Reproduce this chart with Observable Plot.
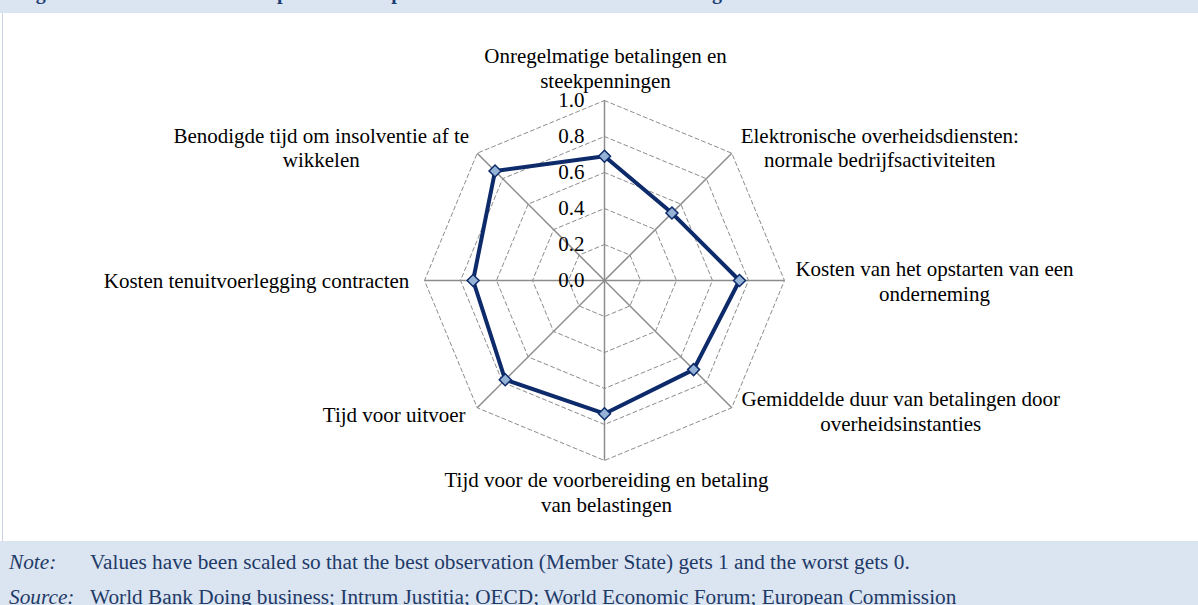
<!DOCTYPE html>
<html>
<head>
<meta charset="utf-8">
<script src="https://cdn.jsdelivr.net/npm/d3@7"></script>
<script src="https://cdn.jsdelivr.net/npm/@observablehq/plot@0.6"></script>
<style>
  html, body { margin: 0; padding: 0; background: #fff; }
  body { width: 1198px; height: 605px; overflow: hidden; font-family: "Liberation Serif", "Times New Roman", serif; }
  #title { position: relative; height: 13px; background: #dbe5f1; overflow: hidden; }
  #title span { position: absolute; left: 18px; top: -19px; font-weight: bold; font-size: 20px; color: #1f3f75; white-space: nowrap; }
  #chart { position: relative; height: 528px; }
  #chart::before { content: ""; position: absolute; left: 2px; top: 0; width: 1px; height: 528px; background: #c8d4e4; }
  #chart svg { display: block; }
  #chart svg, #chart svg text { font-family: "Liberation Serif", "Times New Roman", serif !important; }
  #notes { position: relative; height: 64px; background: #dbe5f1; color: #1f3a68; font-size: 21.3px; }
  #notes div { position: absolute; left: 0; white-space: nowrap; line-height: 24px; }
  #notes i { position: absolute; left: 9px; }
  #notes span { position: absolute; left: 90px; }
</style>
</head>
<body>
<div id="title"><span>Figure 3.4.2: Indicators of the public sector performance in areas relevant to doing business</span></div>
<div id="chart"></div>
<div id="notes">
  <div style="top:9px"><i>Note:</i><span>Values have been scaled so that the best observation (Member State) gets 1 and the worst gets 0.</span></div>
  <div style="top:44px"><i>Source:</i><span>World Bank Doing business; Intrum Justitia; OECD; World Economic Forum; European Commission</span></div>
</div>
<script>
// ---- data ----
const categories = [
  "Onregelmatige betalingen en\nsteekpenningen",
  "Elektronische overheidsdiensten:\nnormale bedrijfsactiviteiten",
  "Kosten van het opstarten van een\nonderneming",
  "Gemiddelde duur van betalingen door\noverheidsinstanties",
  "Tijd voor de voorbereiding en betaling\nvan belastingen",
  "Tijd voor uitvoer",
  "Kosten tenuitvoerlegging contracten",
  "Benodigde tijd om insolventie af te\nwikkelen"
];
const values = [0.69, 0.53, 0.75, 0.70, 0.74, 0.78, 0.73, 0.86];
const gridLevels = [0.2, 0.4, 0.6, 0.8, 1.0];
const tickValues = [0.0, 0.2, 0.4, 0.6, 0.8, 1.0];
const tickLabels = ["0.0", "0.2", "0.4", "0.6", "0.8", "1.0"];

// ---- layout (label offsets in px from the spoke tip) ----
const labelOffsets = [
  {dx: 1, dy: -33}, {dx: 148, dy: -6}, {dx: 150, dy: 0}, {dx: 169, dy: 3},
  {dx: 2, dy: 31}, {dx: -83, dy: 6}, {dx: -168, dy: 0}, {dx: -156, dy: -6}
];

const n = categories.length;
const ang = i => (i % n) * 2 * Math.PI / n;
const px = (r, i) => r * Math.sin(ang(i));
const py = (r, i) => r * Math.cos(ang(i));

const gridRows = gridLevels.flatMap(l => d3.range(n + 1).map(i => ({l, x: px(l, i), y: py(l, i)})));
const spokes = d3.range(n).map(i => ({x: px(1, i), y: py(1, i)}));
const pts = d3.range(n + 1).map(i => ({x: px(values[i % n], i), y: py(values[i % n], i)}));

const navy = "#0d2a6a";
const cx = 604, cy = 267, R = 180;
const serif = "'Liberation Serif','Times New Roman',serif";

const plot = Plot.plot({
  width: 1198,
  height: 528,
  margin: 0,
  x: {domain: [-1, 1], range: [cx - R, cx + R], axis: null},
  y: {domain: [-1, 1], range: [cy + R, cy - R], axis: null},
  style: {fontFamily: serif, background: "transparent"},
  marks: [
    Plot.line(gridRows, {x: "x", y: "y", z: "l", stroke: "#8c8c8c", strokeWidth: 1, strokeDasharray: "4,3"}),
    Plot.link(spokes, {x1: () => 0, y1: () => 0, x2: "x", y2: "y", stroke: "#8c8c8c", strokeWidth: 1.5}),
    Plot.text(tickValues, {x: () => 0, y: d => d, text: (d, i) => tickLabels[i], dx: -20, textAnchor: "end", fontSize: 21, fontFamily: serif, fill: "#000"}),
    Plot.line(pts, {x: "x", y: "y", stroke: navy, strokeWidth: 4, strokeLinejoin: "round"}),
    Plot.dot(pts.slice(0, n), {x: "x", y: "y", symbol: "diamond2", r: 5.4, fill: "#95b3d7", stroke: navy, strokeWidth: 1.5}),
    ...categories.map((c, i) => Plot.text([c], {
      x: () => px(1, i), y: () => py(1, i), text: d => d,
      dx: labelOffsets[i].dx, dy: labelOffsets[i].dy,
      textAnchor: "middle", lineAnchor: "middle", lineHeight: 1.17,
      fontSize: 21, fontFamily: serif, fill: "#000"
    }))
  ]
});
document.getElementById("chart").appendChild(plot);
</script>
</body>
</html>
